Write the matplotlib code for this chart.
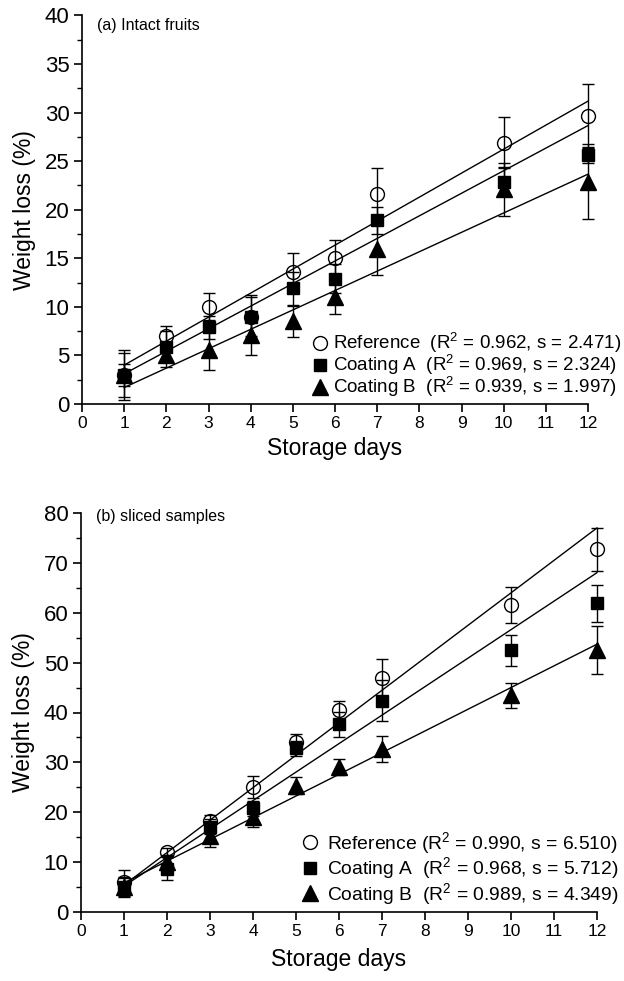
import matplotlib
matplotlib.use("Agg")
import matplotlib.pyplot as plt
import numpy as np
from matplotlib.lines import Line2D
from matplotlib.ticker import MultipleLocator

plt.rcParams['font.family'] = ['Liberation Sans', 'DejaVu Sans']
plt.rcParams['mathtext.fontset'] = 'custom'
plt.rcParams['mathtext.rm'] = 'Liberation Sans'
plt.rcParams['mathtext.it'] = 'Liberation Sans:italic'

# ---------------- data ----------------
days = [1, 2, 3, 4, 5, 6, 7, 10, 12]
series_names = ["Reference", "Coating A", "Coating B"]

# (a) intact fruits
a_ref = [3.0, 7.0, 10.0, 9.0, 13.6, 15.0, 21.6, 26.9, 29.7]
a_ref_err = [2.6, 1.0, 1.4, 2.2, 1.9, 1.9, 2.7, 2.6, 3.2]
a_coatA = [3.0, 5.9, 7.9, 9.0, 11.9, 12.9, 18.9, 22.9, 25.6]
a_coatA_err = [2.3, 1.6, 1.2, 2.0, 1.7, 1.5, 1.4, 1.5, 0.8]
a_coatB = [3.0, 5.0, 5.6, 7.1, 8.5, 11.0, 16.0, 22.1, 22.9]
a_coatB_err = [1.1, 1.2, 2.1, 2.1, 1.6, 1.7, 2.7, 2.7, 3.9]
a_r2 = [0.962, 0.969, 0.939]
a_slope = [2.471, 2.324, 1.997]
a_intercept = [1.53, 0.78, -0.30]

# (b) sliced samples
b_ref = [6.0, 12.1, 18.3, 25.1, 34.1, 40.5, 47.0, 61.5, 72.7]
b_ref_err = [2.5, 0.8, 1.1, 2.2, 1.6, 1.8, 3.7, 3.6, 4.3]
b_coatA = [5.0, 8.7, 17.1, 20.8, 32.8, 37.6, 42.4, 52.5, 61.9]
b_coatA_err = [2.0, 2.3, 1.5, 1.5, 1.5, 2.5, 4.2, 3.1, 3.7]
b_coatB = [5.0, 10.0, 15.2, 19.1, 25.3, 29.1, 32.6, 43.5, 52.6]
b_coatB_err = [1.8, 1.5, 2.1, 2.1, 1.7, 1.6, 2.6, 2.5, 4.8]
b_r2 = [0.990, 0.968, 0.989]
b_slope = [6.510, 5.712, 4.349]
b_intercept = [-1.11, -0.51, 1.51]

x_ticks = list(range(0, 13))

# ---------------- figure ----------------
W, H = 624, 981
fig = plt.figure(figsize=(W / 100, H / 100), dpi=100)

def px_axes(l, t, r, b):
    return fig.add_axes([l / W, 1 - b / H, (r - l) / W, (b - t) / H])

ax1 = px_axes(82, 15.5, 588, 404)
ax2 = px_axes(81, 513, 597, 912)

markers = [dict(marker='o', mfc='none', mec='black', ms=10, mew=1.0),
           dict(marker='s', mfc='black', mec='black', ms=8.5, mew=1.0),
           dict(marker='^', mfc='black', mec='black', ms=11, mew=1.0)]


def draw_panel(ax, vals, errs, slopes, intercepts, ymax, ymajor, title, title_y,
               labels, leg_anchor, leg_fs, leg_spacing, textpad, xlabelpad):
    for v, e in zip(vals, errs):
        eb = ax.errorbar(days, v, yerr=e, fmt='none', ecolor='black', elinewidth=1.0,
                         capsize=4.5, capthick=1.0, zorder=2)
        for art in eb.lines[1] + eb.lines[2]:
            art.set_clip_on(False)
    for s, c in zip(slopes, intercepts):
        xs = np.array([days[0], days[-1]])
        ax.plot(xs, c + s * xs, color='black', lw=1.0, zorder=3, clip_on=False)
    for i, v in enumerate(vals):
        ax.plot(days, v, linestyle='none', zorder=4, clip_on=False, **markers[i])

    ax.set_xlim(0, 12)
    ax.set_ylim(0, ymax)
    ax.set_xticks(x_ticks)
    ax.yaxis.set_major_locator(MultipleLocator(ymajor))
    ax.yaxis.set_minor_locator(MultipleLocator(ymajor / 2))
    for sp in ['top', 'right']:
        ax.spines[sp].set_visible(False)
    for sp in ['left', 'bottom']:
        ax.spines[sp].set_linewidth(1.2)
    ax.tick_params(axis='both', which='major', direction='out', length=6, width=1.2)
    ax.tick_params(axis='y', which='minor', direction='out', length=3.5, width=1.0)
    ax.tick_params(axis='x', labelsize=12.5, pad=3)
    ax.tick_params(axis='y', labelsize=16, pad=3)
    ax.set_xlabel("Storage days", fontsize=16.5, labelpad=xlabelpad)
    ax.set_ylabel("Weight loss (%)", fontsize=16.5, labelpad=6)
    ax.text(0.03, title_y, title, transform=ax.transAxes, fontsize=11.5,
            ha='left', va='center')

    handles = [Line2D([], [], linestyle='none', **markers[i]) for i in range(3)]
    ax.legend(handles, labels, loc='upper left', bbox_to_anchor=leg_anchor,
              bbox_transform=fig.transFigure, frameon=False, fontsize=leg_fs,
              handlelength=0.8, handletextpad=textpad, labelspacing=leg_spacing,
              borderpad=0, borderaxespad=0)


a_labels = [f"{series_names[0]}  (R$^2$ = {a_r2[0]:.3f}, s = {a_slope[0]:.3f})",
            f"{series_names[1]}  (R$^2$ = {a_r2[1]:.3f}, s = {a_slope[1]:.3f})",
            f"{series_names[2]}  (R$^2$ = {a_r2[2]:.3f}, s = {a_slope[2]:.3f})"]
b_labels = [f"{series_names[0]} (R$^2$ = {b_r2[0]:.3f}, s = {b_slope[0]:.3f})",
            f"{series_names[1]}  (R$^2$ = {b_r2[1]:.3f}, s = {b_slope[1]:.3f})",
            f"{series_names[2]}  (R$^2$ = {b_r2[2]:.3f}, s = {b_slope[2]:.3f})"]

draw_panel(ax1, [a_ref, a_coatA, a_coatB], [a_ref_err, a_coatA_err, a_coatB_err],
           a_slope, a_intercept, 40, 5, "(a) Intact fruits", 0.975, a_labels,
           (312.5 / W, 1 - 331 / H), 13.5, -0.11, 0.3, 4)
draw_panel(ax2, [b_ref, b_coatA, b_coatB], [b_ref_err, b_coatA_err, b_coatB_err],
           b_slope, b_intercept, 80, 10, "(b) sliced samples", 0.99, b_labels,
           (302 / W, 1 - 830 / H), 13.9, -0.03, 0.5, 6)

fig.savefig("out.png", dpi=100)
